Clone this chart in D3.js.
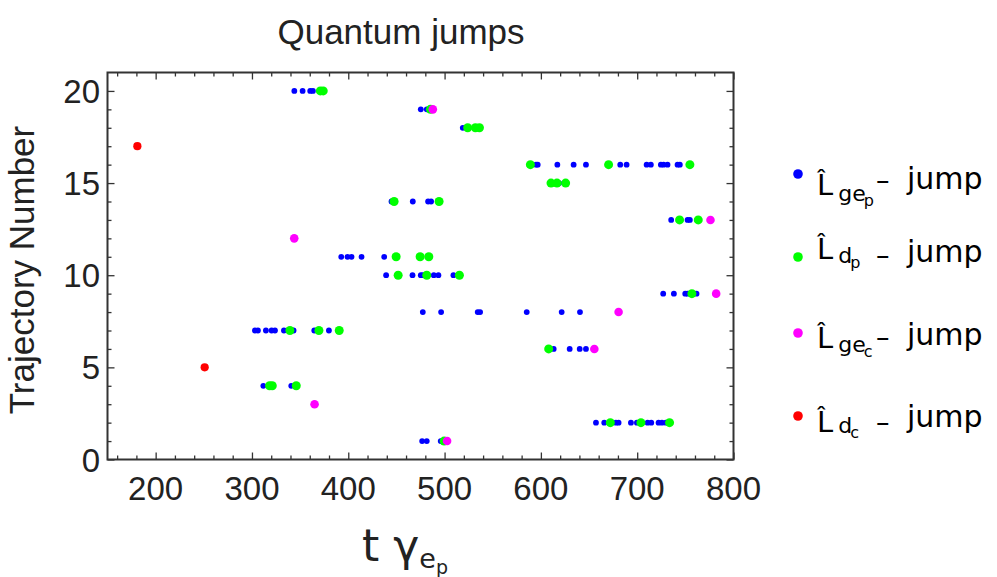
<!DOCTYPE html>
<html>
<head>
<meta charset="utf-8">
<script src="https://cdn.jsdelivr.net/npm/d3@7"></script>
<style>
  body { margin: 0; background: #fff; }
  text { font-family: "Liberation Sans", Arial, sans-serif; fill: #222; }
  .leg text { font-family: "DejaVu Sans", sans-serif; fill: #000; }
</style>
</head>
<body>
<div id="wrapper"></div>
<script>
//data: [time, trajectory number]
var jumpsGeP = [
  [344,20],[352.6,20],[360.5,20],[363.3,20],
  [475.3,19],[481.5,19],
  [518.9,18],
  [595,16],[596.7,16],[617.1,16],[634,16],[646.8,16],[682.4,16],[689,16],[709.8,16],[714.2,16],[724.6,16],[727.4,16],[731.5,16],[741.9,16],[744.3,16],
  [619,15],
  [444.9,14],[467,14],[482.9,14],[486,14],
  [735.3,13],[752.3,13],[754.7,13],
  [392.7,11],[399.2,11],[403.4,11],[413.8,11],[437.3,11],
  [439.3,10],[466.7,10],[475.3,10],[477.4,10],[488.8,10],[493.6,10],[509.2,10],
  [727,9],[738.1,9],[749.9,9],[752.3,9],[761.6,9],
  [477.4,8],[496.4,8],[534.4,8],[536.9,8],[585.3,8],[621.6,8],[640.6,8],
  [303.1,7],[306.2,7],[314.5,7],[320.4,7],[323.9,7],[333.2,7],[343.2,7],[364.7,7],[379.9,7],
  [613.3,6],[629.9,6],[640.3,6],[646.8,6],
  [311.8,4],[340.8,4],
  [657.2,2],[665.8,2],[677.9,2],[680.7,2],[693.5,2],[699.7,2],[710.8,2],[714.6,2],[722.2,2],[725.7,2],[729.8,2],
  [476.7,1],[481.5,1],[496,1]
];
var jumpsDP = [
  [371,20],[374,20],
  [485.3,19],
  [524,18],[532,18],[536.2,18],
  [589.1,16],[670.3,16],[754.7,16],
  [610.5,15],[616.7,15],[625.7,15],
  [447.6,14],[494.3,14],
  [744,13],[763.4,13],
  [449.7,11],[474.6,11],[483.6,11],
  [451.8,10],[481.5,10],[515.4,10],
  [756.8,9],
  [339.4,7],[369.5,7],[390.6,7],
  [608.1,6],
  [318.3,4],[321.1,4],[346,4],
  [672.1,2],[703.9,2],[733.6,2],
  [499.5,1]
];
var jumpsGeC = [[487.8,19],[776.1,13],[343.9,12],[782,9],[680.7,8],[655.5,6],[365,3],[502.6,1]];
var jumpsDC = [[181,17],[250.9,5]];

var xTicks = [200,300,400,500,600,700,800];
var yTicks = [0,5,10,15,20];

var seriesColors = ["#0000ff","#00ff00","#ff00ff","#ff0000"];
var seriesR = [2.9,4.5,4.3,4.1];
var legendSubs = [["ge","p"],["d","p"],["ge","c"],["d","c"]];

/*canvas*/
var width = 997, height = 577;
var pLeft = 107.5, pRight = 733.5, pTop = 72.5, pBottom = 459.5;

var svg = d3.select("#wrapper").append("svg")
    .attr("width", width)
    .attr("height", height);

var x = d3.scaleLinear().domain([150, 800]).range([pLeft, pRight]);
var y = d3.scaleLinear().domain([0, 21]).range([pBottom, pTop]);

//ticks all around, pointing in
var frameColor = "#333";
var xMinor = d3.range(160, 801, 20).filter(function(v){ return v % 100 != 0; });
var yMinor = d3.range(1, 21).filter(function(v){ return v % 5 != 0; });

function tickSide(axisFn, scale, pos, minorVals, majorVals) {
  var g = svg.append("g").attr("transform", pos);
  g.append("g").call(axisFn(scale).tickValues(minorVals).tickSize(-4).tickFormat(""));
  g.append("g").call(axisFn(scale).tickValues(majorVals).tickSize(-7).tickFormat(""));
  g.selectAll(".domain").remove();
  g.selectAll("line").attr("stroke", frameColor).attr("stroke-width", 1.3);
}
tickSide(d3.axisBottom, x, "translate(0," + pBottom + ")", xMinor, xTicks);
tickSide(d3.axisTop, x, "translate(0," + pTop + ")", xMinor, xTicks);
tickSide(d3.axisLeft, y, "translate(" + pLeft + ",0)", yMinor, yTicks);
tickSide(d3.axisRight, y, "translate(" + pRight + ",0)", yMinor, yTicks);

svg.append("rect")
    .attr("x", pLeft).attr("y", pTop)
    .attr("width", pRight - pLeft).attr("height", pBottom - pTop)
    .attr("fill", "none").attr("stroke", frameColor).attr("stroke-width", 2);

//tick labels
svg.selectAll(".xl").data(xTicks).enter().append("text")
    .attr("x", function(d){ return x(d); })
    .attr("y", 500)
    .attr("text-anchor", "middle")
    .attr("font-size", 33)
    .text(function(d){ return d; });
svg.selectAll(".yl").data(yTicks).enter().append("text")
    .attr("x", 100)
    .attr("y", function(d){ return y(d) + 12; })
    .attr("text-anchor", "end")
    .attr("font-size", 33)
    .text(function(d){ return d; });

//titles
svg.append("text").attr("x", 401).attr("y", 44)
    .attr("text-anchor", "middle").attr("font-size", 35)
    .text("Quantum jumps");
svg.append("text")
    .attr("transform", "translate(34,270) rotate(-90)")
    .attr("text-anchor", "middle").attr("font-size", 35)
    .text("Trajectory Number");
var xl = svg.append("text").attr("x", 362).attr("y", 561).attr("font-size", 44)
    .style("font-family", "'DejaVu Sans', sans-serif");
xl.append("tspan").text("t γ");
xl.append("tspan").attr("font-size", 27).attr("dy", 7).text("e");
xl.append("tspan").attr("font-size", 19).attr("dy", 6).text("p");

//points, blue first then the bigger ones on top
var allSeries = [jumpsGeP, jumpsDP, jumpsGeC, jumpsDC];
allSeries.forEach(function(s, i) {
  svg.append("g").selectAll("circle")
      .data(s).enter().append("circle")
      .attr("cx", function(d){ return x(d[0]); })
      .attr("cy", function(d){ return y(d[1]); })
      .attr("r", seriesR[i])
      .attr("fill", seriesColors[i]);
});

//legend - mathematica rows are not evenly spaced so keep each baseline
var legY = [174, 257, 333, 416];
var legLBase = [195, 259, 348, 432];
var legSubBase = [201, 263, 352, 433];
var legSub2Base = [206, 268, 357, 438];
var legDashY = [180, 255, 337, 422];
var legJumpBase = [189, 262, 345, 427];
var leg = svg.append("g").attr("class", "leg");
legY.forEach(function(ly, i) {
  leg.append("circle").attr("cx", 798).attr("cy", ly).attr("r", 4.8).attr("fill", seriesColors[i]);
  var t = leg.append("text").attr("x", 817).attr("y", legLBase[i]).attr("font-size", 29);
  t.append("tspan").text("L\u0302");
  t.append("tspan").attr("font-size", 22).attr("dx", 5).attr("y", legSubBase[i]).text(legendSubs[i][0]);
  t.append("tspan").attr("font-size", 16).attr("dx", -2).attr("y", legSub2Base[i]).text(legendSubs[i][1]);
  leg.append("text").attr("x", 876).attr("y", legDashY[i] + 9).attr("font-size", 27).text("–");
  leg.append("text").attr("x", 907).attr("y", legJumpBase[i]).attr("font-size", 30).text("jump");
});
</script>
</body>
</html>
